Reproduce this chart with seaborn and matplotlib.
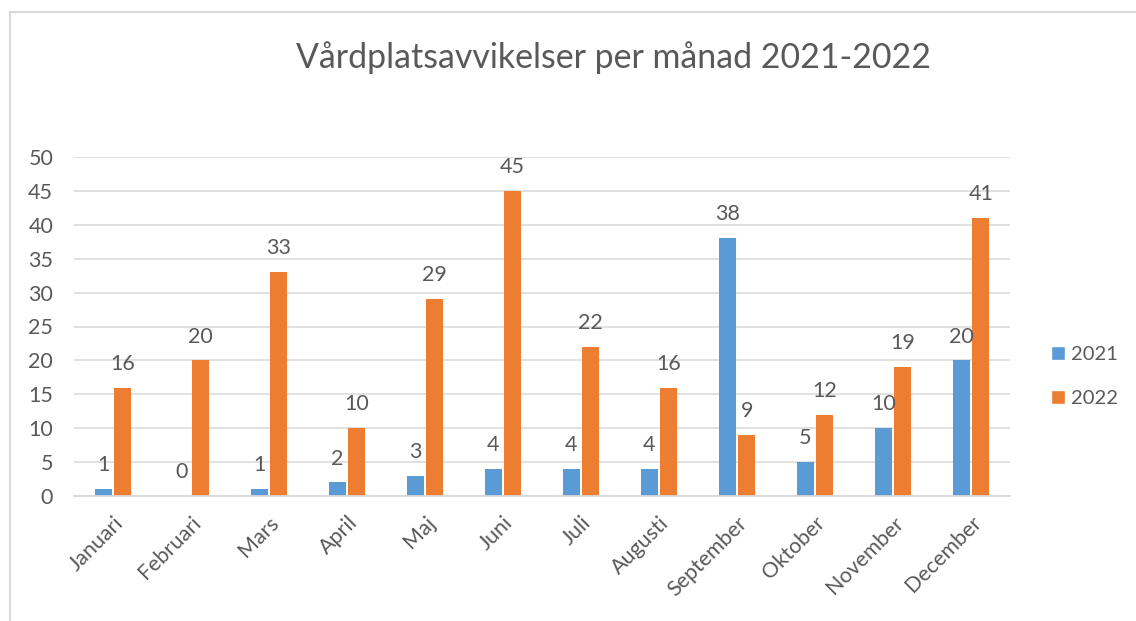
import pandas as pd
import matplotlib.pyplot as plt
import seaborn as sns
from matplotlib.lines import Line2D
from matplotlib.patches import Patch

# monthly counts
months = ["Januari", "Februari", "Mars", "April", "Maj", "Juni",
          "Juli", "Augusti", "September", "Oktober", "November", "December"]
years = ["2021", "2022"]
y2021 = [1, 0, 1, 2, 3, 4, 4, 4, 38, 5, 10, 20]
y2022 = [16, 20, 33, 10, 29, 45, 22, 16, 9, 12, 19, 41]
colors = ["#5B9BD5", "#ED7D31"]

df = pd.DataFrame({
    "month": months * 2,
    "year": [years[0]] * len(months) + [years[1]] * len(months),
    "count": y2021 + y2022,
})

sns.set_theme(style="white")
plt.rcParams['font.family'] = ['Lato', 'DejaVu Sans']
txt = "#595959"
grid = "#D9D9D9"
fs = 15.5

fig = plt.figure(figsize=(11.36, 6.21), dpi=100)
ax = fig.add_axes([74 / 1136, 1 - 496 / 621, (1010 - 74) / 1136, (496 - 157) / 621])

sns.barplot(data=df, x="month", y="count", hue="year", order=months, hue_order=years,
            palette=colors, saturation=1, width=0.5, gap=0.12, errorbar=None,
            linewidth=0, ax=ax)

for c in ax.containers:
    ax.bar_label(c, fmt="%d", padding=10, fontsize=fs, color=txt)

ax.set_ylim(0, 50)
ax.set_yticks(range(0, 51, 5))
ax.yaxis.grid(True, color=grid, lw=1.1)
ax.set_axisbelow(True)
for s in ["top", "right", "left"]:
    ax.spines[s].set_visible(False)
ax.spines["bottom"].set_color(grid)
ax.spines["bottom"].set_linewidth(1.3)
ax.tick_params(axis="both", length=0, labelsize=fs, labelcolor=txt)
ax.tick_params(axis="y", pad=15)
ax.tick_params(axis="x", pad=12)
plt.setp(ax.get_xticklabels(), rotation=45, ha="right", rotation_mode="anchor")
ax.set_xlabel("")
ax.set_ylabel("")

ax.get_legend().remove()
handles = [Patch(facecolor=col, label=yr) for col, yr in zip(colors, years)]
ax.legend(handles=handles, loc="center left", bbox_to_anchor=(1051 / 1136, 1 - 376.5 / 621),
          bbox_transform=fig.transFigure, frameon=False, fontsize=14.5, labelcolor=txt,
          handlelength=0.7, handleheight=0.7, handletextpad=0.3, labelspacing=1.3,
          borderpad=0, borderaxespad=0)

fig.text(614 / 1136, 1 - 58 / 621, "Vårdplatsavvikelser per månad 2021-2022",
         ha="center", va="center", fontsize=24.4, color=txt)

# chart frame edges visible in the screenshot
fig.add_artist(Line2D([10 / 1136, 10 / 1136], [0, 1 - 12 / 621], transform=fig.transFigure,
                      color=grid, lw=1.5))
fig.add_artist(Line2D([10 / 1136, 1], [1 - 12 / 621, 1 - 12 / 621], transform=fig.transFigure,
                      color=grid, lw=1.5))

fig.savefig("out.png", dpi=100)
